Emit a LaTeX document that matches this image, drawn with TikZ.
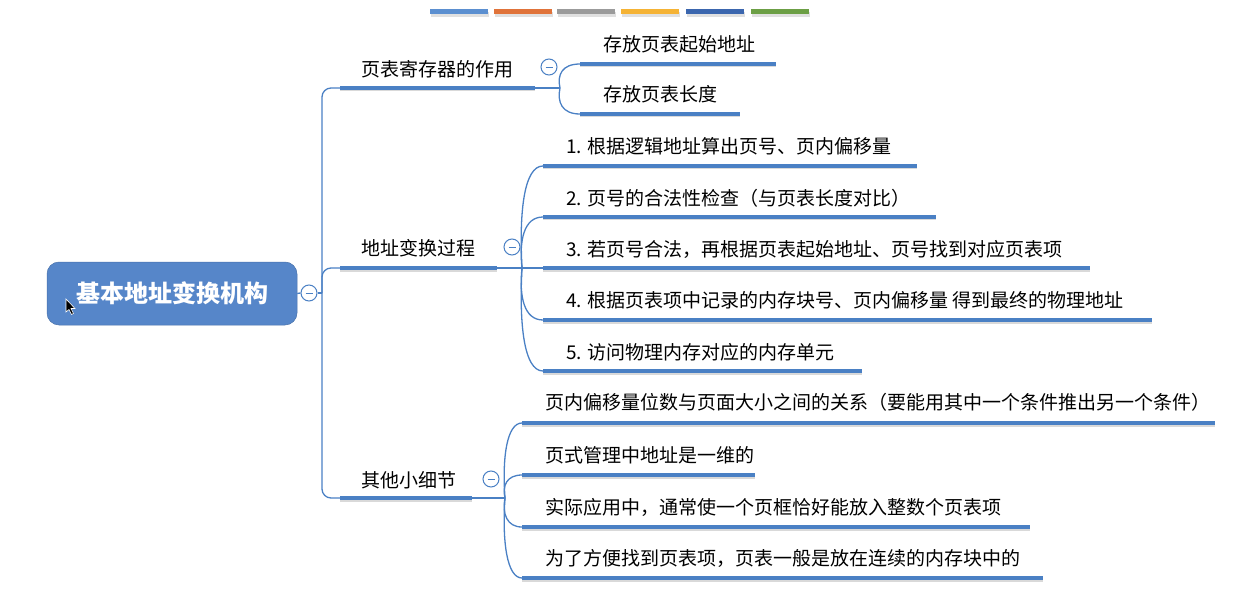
\documentclass[tikz,border=0pt]{standalone}
\usepackage{fontspec}
\setmainfont{Noto Sans CJK SC}
\definecolor{lineblue}{HTML}{4A80C4}
\definecolor{rootblue}{HTML}{5686C9}
\definecolor{barA}{HTML}{5B8FD0}
\definecolor{barB}{HTML}{E0733A}
\definecolor{barC}{HTML}{9B9B9B}
\definecolor{barD}{HTML}{F5B335}
\definecolor{barE}{HTML}{3B66AE}
\definecolor{barF}{HTML}{6C9F45}
\newcommand\myuline[3]{% start x, end x, y
  \draw[ushadow] (#1,#3+2) -- (#2,#3+2);
  \draw[uline] (#1,#3) -- (#2,#3);}
\newcommand\mycurve[4]{% fork x, fork y, child x, child y
  \draw[conn] (#1,#2) .. controls (#1-3,{#2+0.55*(#4-#2)}) and (#1+2,#4) .. (#3,#4);}
\begin{document}
\begin{tikzpicture}[x=1pt,y=-1pt,
  conn/.style={draw=lineblue, line width=1.3pt},
  uline/.style={draw=lineblue, line width=4.5pt},
  ushadow/.style={draw=black!15, line width=3pt},
  lbl/.style={anchor=west, inner sep=0pt, font=\fontsize{19}{22}\selectfont, text=black},
  collapse/.style={circle, draw=lineblue, fill=white, line width=1pt, minimum size=16pt, inner sep=0pt,
    path picture={\draw[lineblue, line width=0.9pt] ([xshift=-3.5pt]path picture bounding box.center) -- ([xshift=3.5pt]path picture bounding box.center);}},
  root/.style={rectangle, rounded corners=12pt, fill=rootblue, draw=rootblue!85!black, line width=0.5pt,
    minimum width=250pt, minimum height=63pt, text=white, font=\fontsize{24}{28}\selectfont\bfseries},
]
\useasboundingbox (0,0) rectangle (1258,596);

% colour bar
\foreach \x/\c in {430/barA,494/barB,557/barC,621/barD,686/barE,751/barF}{
  \fill[black!12] (\x+1,12) rectangle (\x+59,17);
  \fill[\c] (\x,9) rectangle (\x+58,14);
}

% root
\node[root] (root) at (172,293.5) {基本地址变换机构};
\node[collapse] (rc) at (309,293) {};
\coordinate (tr) at (322,293);
\draw[conn] (root.east) -- (rc.west);
\draw[conn] (rc.east) -- (tr);

% cursor
\filldraw[fill=black, draw=white, line width=0.6pt] (66,299) -- (66,312) -- (69,309.5) -- (71.5,314.5) -- (73.5,313.5) -- (71,308.5) -- (75,308.5) -- cycle;

% trunk
\coordinate (b1s) at (340,88);
\coordinate (b2s) at (340,268);
\coordinate (b3s) at (340,498);
\draw[conn, rounded corners=9pt] (tr) |- (b1s);
\draw[conn, rounded corners=9pt] (tr) |- (b2s);
\draw[conn, rounded corners=9pt] (tr) |- (b3s);

% ---------- branch 1
\myuline{340}{535}{88}
\node[lbl] (b1) at (361,69) {页表寄存器的作用};
\node[collapse] (b1c) at (549,67) {};
\coordinate (f1) at (560,88);
\draw[conn] (535,88) -- (f1);
\mycurve{560}{88}{580}{64}
\mycurve{560}{88}{580}{114}
\myuline{580}{776}{64}
\myuline{580}{740}{114}
\node[lbl] (c11) at (603,44) {存放页表起始地址};
\node[lbl] (c12) at (603,94) {存放页表长度};

% ---------- branch 2
\myuline{340}{497}{268}
\node[lbl] (b2) at (361,248) {地址变换过程};
\node[collapse] (b2c) at (512,247) {};
\coordinate (f2) at (522,268);
\draw[conn] (497,268) -- (f2);
\mycurve{522}{268}{543}{166}
\mycurve{522}{268}{543}{217}
\draw[conn] (f2) -- (543,268);
\mycurve{522}{268}{543}{320}
\mycurve{522}{268}{543}{371}
\myuline{543}{917}{166}
\myuline{543}{936}{217}
\myuline{543}{1090}{268}
\myuline{543}{1152}{320}
\myuline{543}{862}{371}
\node[lbl] (c21) at (566,146) {1. 根据逻辑地址算出页号、页内偏移量};
\node[lbl] (c22) at (566,198) {2. 页号的合法性检查（与页表长度对比）};
\node[lbl] (c23) at (566,249) {3. 若页号合法，再根据页表起始地址、页号找到对应页表项};
\node[lbl] (c24) at (566,300) {4. 根据页表项中记录的内存块号、页内偏移量 得到最终的物理地址};
\node[lbl] (c25) at (566,352) {5. 访问物理内存对应的内存单元};

% ---------- branch 3
\myuline{340}{472}{498}
\node[lbl] (b3) at (361,480) {其他小细节};
\node[collapse] (b3c) at (491,479) {};
\coordinate (f3) at (505,498);
\draw[conn] (472,498) -- (f3);
\mycurve{505}{498}{522}{423}
\mycurve{505}{498}{522}{475}
\mycurve{505}{498}{522}{527}
\mycurve{505}{498}{522}{578}
\myuline{522}{1215}{423}
\myuline{522}{755}{475}
\myuline{522}{1030}{527}
\myuline{522}{1043}{578}
\node[lbl] (c31) at (545,402) {页内偏移量位数与页面大小之间的关系（要能用其中一个条件推出另一个条件）};
\node[lbl] (c32) at (545,455) {页式管理中地址是一维的};
\node[lbl] (c33) at (545,507) {实际应用中，通常使一个页框恰好能放入整数个页表项};
\node[lbl] (c34) at (545,558) {为了方便找到页表项，页表一般是放在连续的内存块中的};
\end{tikzpicture}
\end{document}
